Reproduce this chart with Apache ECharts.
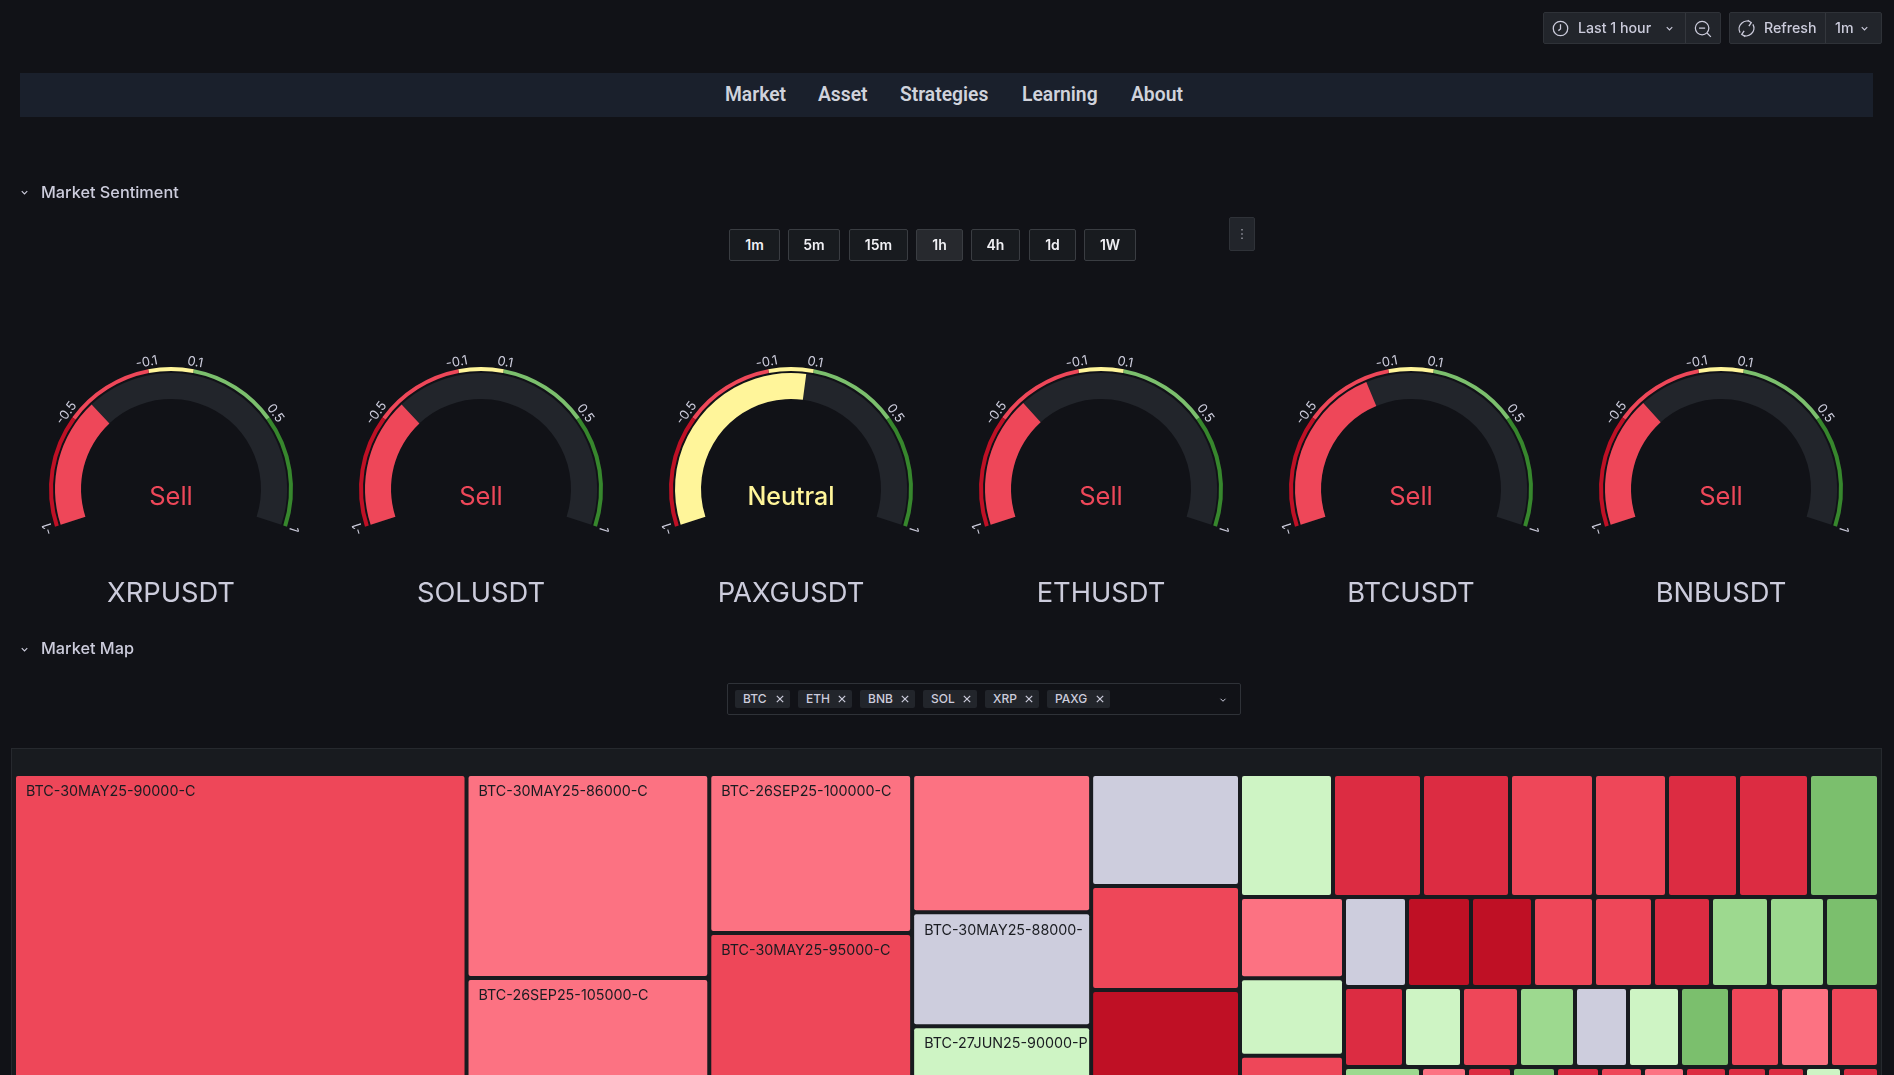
<!DOCTYPE html>
<html>
<head>
<meta charset="utf-8">
<title>Market</title>
<script src="https://cdn.jsdelivr.net/npm/echarts@6/dist/echarts.min.js"></script>
<style>
    html, body {margin: 0; width: 1894px; height: 1075px; overflow: hidden; background: #111217; font-family: Inter, sans-serif; color: #ccccdc;}
    #panel {position: absolute; left: 11px; top: 748px; width: 1871px; height: 400px; background: #181b1f; border: 1px solid #26292e; box-sizing: border-box;}
    #chart {position: absolute; left: 0; top: 0; width: 1894px; height: 1075px;}
    .abs {position: absolute; box-sizing: border-box; white-space: nowrap;}
    .tool {background: #22252b; border: 1px solid #2f3238; border-radius: 2px; height: 32px; top: 12px;}
    .sep {width: 1px; height: 30px; top: 13px; background: #34373d;}
    .tooltext {top: 13px; font-size: 14.2px; font-weight: 500; line-height: 30px;}
    .navlink {top: 84px; font-family: Roboto, sans-serif; font-size: 19.3px; font-weight: 600; line-height: 22px; color: #d0d3dc;}
    .rowtitle {left: 41px; font-size: 16.3px; font-weight: 500; line-height: 20px;}
    .btn {top: 229px; height: 32px; background: #181b1f; border: 1px solid #3a3d42; border-radius: 2px; text-align: center; font-size: 14px; font-weight: 600; line-height: 30px; color: #f0f0f4;}
    .btn.on {background: #27292e;}
    .tag {top: 690px; height: 18px; background: #22252b; border-radius: 2px; font-size: 12px; font-weight: 500; line-height: 18px; padding-left: 7px;}
    .tag svg {position: absolute; right: 6px; top: 5px;}
    svg {position: absolute; fill: none; stroke: #ccccdc;}
</style>
</head>
<body>
<div id="panel"></div>
<div id="chart"></div>
<div id="chrome"></div>
<script>
// gauges
var gaugeSymbols = ['XRPUSDT', 'SOLUSDT', 'PAXGUSDT', 'ETHUSDT', 'BTCUSDT', 'BNBUSDT'];
var gaugeValues = [-0.4, -0.4, 0.07, -0.39, -0.21, -0.39];
var gaugeSignals = ['Sell', 'Sell', 'Neutral', 'Sell', 'Sell', 'Sell'];
var gaugeTicks = [-1, -0.5, -0.1, 0.1, 0.5, 1];
var thresholds = [-0.5, -0.1, 0.1, 0.5, 1];

// treemap: areas and the colour bucket of every cell, named where the picture shows a name
var col1Names = ['BTC-30MAY25-90000-C'];
var col1Values = [1441];
var col1Buckets = ['red'];
var col2Names = ['BTC-30MAY25-86000-C', 'BTC-26SEP25-105000-C'];
var col2Values = [496, 277];
var col2Buckets = ['pink', 'pink'];
var col3Names = ['BTC-26SEP25-100000-C', 'BTC-30MAY25-95000-C'];
var col3Values = [323, 323];
var col3Buckets = ['pink', 'red'];
var col4Names = ['', 'BTC-30MAY25-88000-C', 'BTC-27JUN25-90000-P'];
var col4Values = [248, 204, 118];
var col4Buckets = ['pink', 'gray', 'pale'];
var col5Names = ['', '', ''];
var col5Values = [167, 155, 152];
var col5Buckets = ['gray', 'red', 'dark'];
var row1Values = [93, 89, 88, 84, 73, 71, 71, 70];
var row1Buckets = ['pale', 'crimson', 'crimson', 'red', 'red', 'crimson', 'crimson', 'green'];
var col6Values = [83, 79, 37];
var col6Buckets = ['pink', 'pale', 'red'];
var row2Values = [63, 64, 62, 61, 59, 58, 58, 56, 54];
var row2Buckets = ['gray', 'dark', 'dark', 'red', 'red', 'crimson', 'mid', 'mid', 'green'];
var row3Values = [60, 58, 57, 56, 53, 52, 50, 50, 50, 49];
var row3Buckets = ['crimson', 'pale', 'red', 'mid', 'gray', 'pale', 'green', 'red', 'pink', 'red'];
var row4Values = [77, 46, 45, 44, 44, 43, 42, 42, 40, 38, 37, 37];
var row4Buckets = ['mid', 'pink', 'crimson', 'green', 'crimson', 'red', 'pink', 'crimson', 'crimson', 'crimson', 'pale', 'crimson'];

var bucketColors = {
    dark: '#BF1025', crimson: '#DC2C42', red: '#EE4759', pink: '#FC7282',
    gray: '#CDCDDD', pale: '#CEF4C4', mid: '#9DD98F', green: '#7BBF6D'
};
var stepColors = ['#BF1025', '#EE4759', '#FFF59A', '#7BBF6D', '#37872D'];

function stepColor(v) {
    for (var i = 0; i < thresholds.length; i++) {
        if (v <= thresholds[i]) return stepColors[i];
    }
    return stepColors[stepColors.length - 1];
}

function gaugeSeries(i) {
    var center = [171 + i * 310, 489];
    var stops = thresholds.map(function (t, k) {
        return [(t + 1) / 2, stepColors[k]];
    });
    var base = {
        type: 'gauge', center: center, min: -1, max: 1, startAngle: 198, endAngle: -18,
        splitNumber: 20, pointer: {show: false}, axisTick: {show: false},
        splitLine: {show: false, length: 0, distance: 0}, animation: false, silent: true
    };
    var outer = Object.assign({}, base, {
        radius: 122,
        axisLine: {lineStyle: {width: 4, color: stops}},
        axisLabel: {
            distance: -7, color: '#ccccdc', fontSize: 13, fontFamily: 'Inter', rotate: 'tangential',
            formatter: function (v) {
                var r = Math.round(v * 10) / 10;
                return gaugeTicks.indexOf(r) >= 0 ? String(r) : '';
            }
        },
        title: {show: false}, detail: {show: false},
        data: [{value: gaugeValues[i]}]
    });
    var color = stepColor(gaugeValues[i]);
    var neutral = gaugeSignals[i] === 'Neutral';
    var main = Object.assign({}, base, {
        radius: 116,
        axisLine: {lineStyle: {width: 26, color: [[1, '#22252b']]}},
        axisLabel: {show: false},
        progress: {show: true, width: 26, itemStyle: {color: color}},
        title: {offsetCenter: [0, 105], color: '#ccccdc', fontSize: 27.3, fontFamily: 'Inter'},
        detail: {
            offsetCenter: [0, 8], color: color, fontSize: neutral ? 25 : 25.5, fontFamily: 'Inter',
            fontWeight: neutral ? 500 : 400,
            formatter: function () { return gaugeSignals[i]; }
        },
        data: [{value: gaugeValues[i], name: gaugeSymbols[i]}]
    });
    return [outer, main];
}

function leaves(values, buckets, names) {
    return values.map(function (v, i) {
        return {value: v, name: names ? names[i] : '', itemStyle: {color: bucketColors[buckets[i]]}};
    });
}

function treemapSeries(box, data) {
    return {
        type: 'treemap', left: box[0], top: box[1], width: box[2], height: box[3],
        data: data, sort: false, squareRatio: 1, roam: false, nodeClick: false, silent: true,
        animation: false, breadcrumb: {show: false}, visibleMin: 0, childrenVisibleMin: 0,
        itemStyle: {gapWidth: 4, borderWidth: 0, borderColor: '#181b1f', borderRadius: 2},
        label: {
            show: true, position: 'insideTopLeft', distance: 0, padding: [9, 0, 0, 10],
            color: '#1a1c21', fontSize: 14.3, fontFamily: 'Inter', overflow: 'truncate', ellipsis: ''
        },
        upperLabel: {show: false}
    };
}

var series = [];
gaugeSymbols.forEach(function (s, i) {
    series = series.concat(gaugeSeries(i));
});
series.push(treemapSeries([16, 776, 1222, 314], [
    {name: 'c1', children: leaves(col1Values, col1Buckets, col1Names)},
    {name: 'c2', children: leaves(col2Values, col2Buckets, col2Names)},
    {name: 'c3', children: leaves(col3Values, col3Buckets, col3Names)},
    {name: 'c4', children: leaves(col4Values, col4Buckets, col4Names)},
    {name: 'c5', children: leaves(col5Values, col5Buckets, col5Names)}
]));
series.push(treemapSeries([1242, 776, 635, 119], leaves(row1Values, row1Buckets)));
series.push(treemapSeries([1242, 899, 100, 191], leaves(col6Values, col6Buckets)));
series.push(treemapSeries([1346, 899, 531, 86], leaves(row2Values, row2Buckets)));
series.push(treemapSeries([1346, 989, 531, 76], leaves(row3Values, row3Buckets)));
series.push(treemapSeries([1346, 1069, 531, 21], leaves(row4Values, row4Buckets)));

var chart = echarts.init(document.getElementById('chart'));
chart.setOption({backgroundColor: 'transparent', animation: false, series: series});

// dashboard chrome around the chart
var chrome = document.getElementById('chrome');

function add(cls, left, width, text, extra) {
    var el = document.createElement('div');
    el.className = 'abs ' + cls;
    if (left !== null) el.style.left = left + 'px';
    if (width !== null) el.style.width = width + 'px';
    if (text) el.textContent = text;
    if (extra) Object.assign(el.style, extra);
    chrome.appendChild(el);
    return el;
}

function icon(left, top, size, inner) {
    var s = document.createElementNS('http://www.w3.org/2000/svg', 'svg');
    s.setAttribute('width', size);
    s.setAttribute('height', size);
    s.setAttribute('viewBox', '0 0 16 16');
    s.style.left = left + 'px';
    s.style.top = top + 'px';
    s.innerHTML = inner;
    chrome.appendChild(s);
    return s;
}

var chevron = '<path d="M4 6l4 4 4-4" stroke-width="1.6"/>';

add('tool', 1543, 178);
add('sep', 1685, null);
add('tool', 1729, 153);
add('sep', 1825, null);
add('tooltext', 1578, null, 'Last 1 hour');
add('tooltext', 1764, null, 'Refresh');
add('tooltext', 1835, null, '1m');
icon(1552, 20, 17, '<circle cx="8" cy="8" r="6.8" stroke-width="1.2"/><path d="M8 4v4.5L6 10" stroke-width="1.2"/>');
icon(1664, 23, 11, chevron);
icon(1694, 20, 18, '<circle cx="7.2" cy="7.2" r="6" stroke-width="1.1"/><path d="M4.5 7.2h5.4M11.6 11.6l3.4 3.4" stroke-width="1.1"/>');
icon(1737, 19, 19, '<path d="M2.6 11.5A6.5 6.5 0 0 1 12 3M13.4 4.5A6.5 6.5 0 0 1 4 13M9 1l3 2-2 3M7 15l-3-2 2-3" stroke-width="1.1"/>');
icon(1859, 23, 11, chevron);

add('', 20, 1853, '', {top: '73px', height: '44px', background: '#1a202c'});
[['Market', 725], ['Asset', 818], ['Strategies', 900], ['Learning', 1022], ['About', 1131]].forEach(function (n) {
    add('navlink', n[1], null, n[0]);
});

add('rowtitle', null, null, 'Market Sentiment', {top: '182px'});
add('rowtitle', null, null, 'Market Map', {top: '638px'});
icon(19, 187, 11, chevron);
icon(19, 644, 11, chevron);

[['1m', 729, 51], ['5m', 788, 52], ['15m', 849, 59], ['1h', 916, 47], ['4h', 971, 49], ['1d', 1029, 47], ['1W', 1084, 52]].forEach(function (b) {
    add('btn' + (b[0] === '1h' ? ' on' : ''), b[1], b[2], b[0]);
});
add('', 1229, 26, '', {top: '217px', height: '34px', background: '#22252b', border: '1px solid #2f3238', borderRadius: '2px'});
icon(1234, 226, 16, '<path d="M8 3v1.6M8 7.2v1.6M8 11.4v1.6" stroke="#8e9099" stroke-width="1.6"/>');

add('', 727, 514, '', {top: '683px', height: '32px', border: '1px solid #2f3238', borderRadius: '2px'});
[['BTC', 735, 55], ['ETH', 798, 54], ['BNB', 860, 55], ['SOL', 923, 54], ['XRP', 985, 54], ['PAXG', 1047, 63]].forEach(function (t) {
    var el = add('tag', t[1], t[2], t[0], {paddingLeft: '8px'});
    var s = document.createElementNS('http://www.w3.org/2000/svg', 'svg');
    s.setAttribute('width', 8);
    s.setAttribute('height', 8);
    s.setAttribute('viewBox', '0 0 8 8');
    s.innerHTML = '<path d="M0.8 0.8l6.4 6.4M7.2 0.8L0.8 7.2" stroke-width="1.2"/>';
    el.appendChild(s);
});
icon(1218, 695, 10, chevron);
</script>
</body>
</html>
